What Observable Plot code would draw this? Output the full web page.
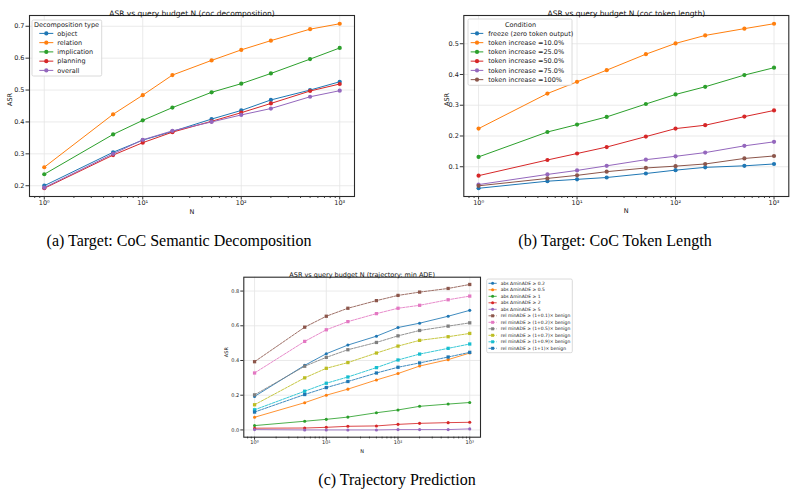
<!DOCTYPE html>
<html><head><meta charset="utf-8">
<script src="https://cdn.jsdelivr.net/npm/d3@7"></script>
<script src="https://cdn.jsdelivr.net/npm/@observablehq/plot@0.6"></script>
<style>
body{margin:0;background:#fff;}
#fig{position:relative;width:796px;height:495px;overflow:hidden;background:#fff;}
.panel{position:absolute;}
.cap{position:absolute;font-family:"Liberation Serif","Times New Roman",serif;font-size:16px;line-height:16px;white-space:nowrap;color:#000;transform:translateX(-50%);}
</style></head><body>
<div id="fig"></div>
<script>
// ---------- data ----------
const N = [1, 5, 10, 20, 50, 100, 200, 500, 1000];
const majorN = [1, 10, 100, 1000];
const minorN = [0.8, 0.9, 2, 3, 4, 5, 6, 7, 8, 9, 20, 30, 40, 50, 60, 70, 80, 90, 200, 300, 400, 500, 600, 700, 800, 900];
const supDigits = ["⁰", "¹", "²", "³"];

// (a) CoC semantic decomposition
const decompTypes = ["object", "relation", "implication", "planning", "overall"];
const decObject      = [0.200, 0.305, 0.343, 0.370, 0.409, 0.436, 0.469, 0.500, 0.526];
const decRelation    = [0.258, 0.424, 0.484, 0.547, 0.593, 0.626, 0.655, 0.691, 0.708];
const decImplication = [0.236, 0.361, 0.405, 0.445, 0.493, 0.520, 0.552, 0.597, 0.632];
const decPlanning    = [0.192, 0.296, 0.335, 0.368, 0.402, 0.429, 0.458, 0.497, 0.519];
const decOverall     = [0.194, 0.300, 0.344, 0.372, 0.400, 0.422, 0.442, 0.479, 0.498];
const aYTicks = [0.2, 0.3, 0.4, 0.5, 0.6, 0.7];

// (b) CoC token length
const conditions = ["freeze (zero token output)", "token increase =10.0%", "token increase =25.0%", "token increase =50.0%", "token increase =75.0%", "token increase =100%"];
const tokFreeze = [0.030, 0.053, 0.059, 0.065, 0.078, 0.089, 0.098, 0.103, 0.109];
const tok10  = [0.224, 0.338, 0.376, 0.414, 0.466, 0.501, 0.527, 0.549, 0.565];
const tok25  = [0.132, 0.213, 0.237, 0.262, 0.304, 0.335, 0.360, 0.398, 0.422];
const tok50  = [0.071, 0.122, 0.143, 0.164, 0.198, 0.224, 0.235, 0.263, 0.283];
const tok75  = [0.042, 0.075, 0.088, 0.103, 0.123, 0.134, 0.146, 0.168, 0.181];
const tok100 = [0.038, 0.062, 0.072, 0.084, 0.096, 0.102, 0.109, 0.127, 0.135];
const bYTicks = [0.1, 0.2, 0.3, 0.4, 0.5];

// (c) trajectory prediction
const trajLabels = ["abs ΔminADE ≥ 0.2", "abs ΔminADE ≥ 0.5", "abs ΔminADE ≥ 1", "abs ΔminADE ≥ 2", "abs ΔminADE ≥ 5",
  "rel minADE ≥ (1+0.1)× benign", "rel minADE ≥ (1+0.2)× benign", "rel minADE ≥ (1+0.5)× benign",
  "rel minADE ≥ (1+0.7)× benign", "rel minADE ≥ (1+0.9)× benign", "rel minADE ≥ (1+1)× benign"];
const abs02 = [0.193, 0.372, 0.439, 0.489, 0.540, 0.590, 0.615, 0.655, 0.689];
const abs05 = [0.073, 0.157, 0.200, 0.235, 0.288, 0.325, 0.368, 0.405, 0.443];
const abs1  = [0.025, 0.050, 0.061, 0.074, 0.099, 0.115, 0.136, 0.149, 0.158];
const abs2  = [0.010, 0.011, 0.015, 0.021, 0.023, 0.032, 0.038, 0.042, 0.044];
const abs5  = [0.002, 0.000, 0.000, 0.000, 0.000, 0.002, 0.002, 0.002, 0.006];
const rel01 = [0.393, 0.592, 0.655, 0.701, 0.745, 0.775, 0.794, 0.815, 0.838];
const rel02 = [0.328, 0.510, 0.577, 0.624, 0.670, 0.701, 0.718, 0.750, 0.771];
const rel05 = [0.202, 0.367, 0.418, 0.462, 0.504, 0.542, 0.573, 0.598, 0.617];
const rel07 = [0.145, 0.300, 0.355, 0.388, 0.443, 0.483, 0.516, 0.537, 0.556];
const rel09 = [0.116, 0.223, 0.269, 0.305, 0.359, 0.403, 0.437, 0.470, 0.495];
const rel10 = [0.103, 0.204, 0.244, 0.279, 0.328, 0.361, 0.386, 0.420, 0.447];
const cYTicks = [0.0, 0.2, 0.4, 0.6, 0.8];

const tab10 = ["#1f77b4", "#ff7f0e", "#2ca02c", "#d62728", "#9467bd", "#8c564b", "#e377c2", "#7f7f7f", "#bcbd22", "#17becf"];

// ---------- helpers ----------
const fmtPow = d => "10" + supDigits[Math.round(Math.log10(d))];
const logPad = (lo, hi) => { const a = Math.log10(lo), b = Math.log10(hi), p = (b - a) * 0.05; return [10 ** (a - p), 10 ** (b + p)]; };
const linPad = arrs => { const all = arrs.flat(); const lo = d3.min(all), hi = d3.max(all), p = (hi - lo) * 0.05; return [lo - p, hi + p]; };

function makePanel(cfg) {
  const marks = [
    Plot.gridX({ticks: majorN, stroke: "#e4e4e4", strokeOpacity: 1, strokeWidth: 0.8}),
    Plot.gridY({ticks: cfg.yTicks, stroke: "#e4e4e4", strokeOpacity: 1, strokeWidth: 0.8})
  ];
  cfg.series.forEach(s => {
    const rows = s.values.map((v, j) => ({N: N[j], v}));
    marks.push(Plot.line(rows, {x: "N", y: "v", stroke: s.color, strokeWidth: cfg.sw, strokeDasharray: s.dashed ? cfg.dash : null}));
    marks.push(Plot.dot(rows, {x: "N", y: "v", fill: s.color, stroke: "none", r: s.square ? cfg.rs : cfg.r, symbol: s.square ? "square" : "circle"}));
  });
  marks.push(
    Plot.frame({stroke: "#2a2a2a", strokeWidth: 1.1}),
    Plot.axisX({ticks: majorN, tickFormat: fmtPow, tickSize: cfg.tick, tickPadding: 0.5, label: null, fontSize: cfg.fs, stroke: "#333"}),
    Plot.axisX({ticks: minorN, tickFormat: () => "", tickSize: cfg.tick * 0.55, label: null, stroke: "#333"}),
    Plot.axisY({ticks: cfg.yTicks, tickFormat: d3.format(".1f"), tickSize: cfg.tick, tickPadding: 1.5, label: null, fontSize: cfg.fs, stroke: "#333"}),
    Plot.text([cfg.title], {text: d => d, frameAnchor: "top", dy: cfg.titleDy, fontSize: cfg.tfs, fill: "#111"}),
    Plot.text(["ASR"], {text: d => d, frameAnchor: "left", dx: cfg.ylabDx, rotate: -90, fontSize: cfg.fs, fill: "#111"}),
    Plot.text(["N"], {text: d => d, frameAnchor: "bottom", dy: cfg.xlabDy, fontSize: cfg.fs, fill: "#111"})
  );
  const svg = Plot.plot({
    width: cfg.width, height: cfg.height,
    marginLeft: cfg.m[0], marginTop: cfg.m[1], marginRight: cfg.m[2], marginBottom: cfg.m[3],
    x: {type: "log", domain: logPad(1, 1000)},
    y: {domain: linPad(cfg.series.map(s => s.values))},
    style: {fontFamily: "DejaVu Sans, sans-serif", fontSize: cfg.fs + "px", color: "#222", background: "transparent", overflow: "visible"},
    marks
  });
  // legend
  const L = cfg.legend;
  const g = d3.select(svg).append("g").attr("font-family", "DejaVu Sans, sans-serif").attr("font-size", L.fs).attr("text-anchor", "start");
  g.append("rect").attr("x", L.x).attr("y", L.y).attr("width", L.w).attr("height", L.h).attr("rx", 1.5)
    .attr("fill", "#fff").attr("fill-opacity", 0.85).attr("stroke", "#d0d0d0").attr("stroke-width", 0.8);
  if (L.title) g.append("text").attr("x", L.titleX).attr("y", L.titleY).attr("text-anchor", "middle").attr("dy", "0.35em").attr("fill", "#222").text(L.title);
  cfg.series.forEach((s, i) => {
    const yy = L.row0 + i * L.step;
    g.append("line").attr("x1", L.h0).attr("x2", L.h1).attr("y1", yy).attr("y2", yy).attr("stroke", s.color).attr("stroke-width", cfg.sw)
      .attr("stroke-dasharray", s.dashed ? cfg.dash : null);
    const mx = (L.h0 + L.h1) / 2;
    if (s.square) g.append("rect").attr("x", mx - L.sq / 2).attr("y", yy - L.sq / 2).attr("width", L.sq).attr("height", L.sq).attr("fill", s.color);
    else g.append("circle").attr("cx", mx).attr("cy", yy).attr("r", L.r).attr("fill", s.color);
    g.append("text").attr("x", L.tx).attr("y", yy).attr("dy", "0.35em").attr("text-anchor", "start").attr("fill", "#222").text(s.name);
  });
  const div = document.createElement("div");
  div.className = "panel";
  div.style.left = cfg.left + "px"; div.style.top = cfg.top + "px";
  div.appendChild(svg);
  return div;
}

const fig = document.getElementById("fig");

// (a)
const aVals = [decObject, decRelation, decImplication, decPlanning, decOverall];
fig.appendChild(makePanel({
  left: 0, top: 0, width: 370, height: 225, m: [29, 15, 16, 29],
  series: decompTypes.map((name, i) => ({name, values: aVals[i], color: tab10[i]})),
  yTicks: aYTicks, title: "ASR vs query budget N (coc decomposition)",
  fs: 6.5, tfs: 7.5, sw: 1, r: 2.1, rs: 2, dash: "3,1.3", tick: 3.5, titleDy: -5, ylabDx: -19.5, xlabDy: 17,
  legend: {x: 32, y: 20, w: 69.7, h: 56, fs: 6.5, title: "Decomposition type", titleX: 66.5, titleY: 24.5,
    row0: 33.4, step: 9.25, h0: 39.3, h1: 53.3, tx: 57.3, r: 2.1, sq: 4}
}));

// (b)
const bVals = [tokFreeze, tok10, tok25, tok50, tok75, tok100];
fig.appendChild(makePanel({
  left: 400, top: 0, width: 396, height: 225, m: [63.3, 15, 7.7, 29],
  series: conditions.map((name, i) => ({name, values: bVals[i], color: tab10[i]})),
  yTicks: bYTicks, title: "ASR vs query budget N (coc token length)",
  fs: 6.5, tfs: 7.5, sw: 1, r: 2.1, rs: 2, dash: "3,1.3", tick: 3.5, titleDy: -5, ylabDx: -16.6, xlabDy: 16.6,
  legend: {x: 68, y: 19, w: 104, h: 66.3, fs: 6.5, title: "Condition", titleX: 120.5, titleY: 24.5,
    row0: 33.4, step: 9.25, h0: 70.7, h1: 83.3, tx: 88.3, r: 2.1, sq: 4}
}));

// (c)
const cVals = [abs02, abs05, abs1, abs2, abs5, rel01, rel02, rel05, rel07, rel09, rel10];
const cColors = [tab10[0], tab10[1], tab10[2], tab10[3], tab10[4], tab10[5], tab10[6], tab10[7], tab10[8], tab10[9], tab10[0]];
fig.appendChild(makePanel({
  left: 200, top: 250, width: 400, height: 215, m: [43.3, 26.7, 120, 28.3],
  series: trajLabels.map((name, i) => ({name, values: cVals[i], color: cColors[i], dashed: i >= 5, square: i >= 5})),
  yTicks: cYTicks, title: "ASR vs query budget N (trajectory: min ADE)",
  fs: 5, tfs: 6.5, sw: 0.85, r: 1.55, rs: 1.85, dash: "2.6,1.2", tick: 3, titleDy: -4.4, ylabDx: -17.3, xlabDy: 16,
  legend: {x: 286.7, y: 29, w: 85.6, h: 73.7, fs: 4.5, title: null,
    row0: 33.3, step: 6.5, h0: 288.5, h1: 296.7, tx: 300.7, r: 1.5, sq: 3}
}));

// captions
const captions = [
  {text: "(a) Target: CoC Semantic Decomposition", x: 179, top: 232.6},
  {text: "(b) Target: CoC Token Length", x: 615, top: 232.6},
  {text: "(c) Trajectory Prediction", x: 397, top: 472}
];
captions.forEach(c => {
  const d = document.createElement("div");
  d.className = "cap"; d.style.left = c.x + "px"; d.style.top = c.top + "px"; d.textContent = c.text;
  fig.appendChild(d);
});
</script>
</body></html>
